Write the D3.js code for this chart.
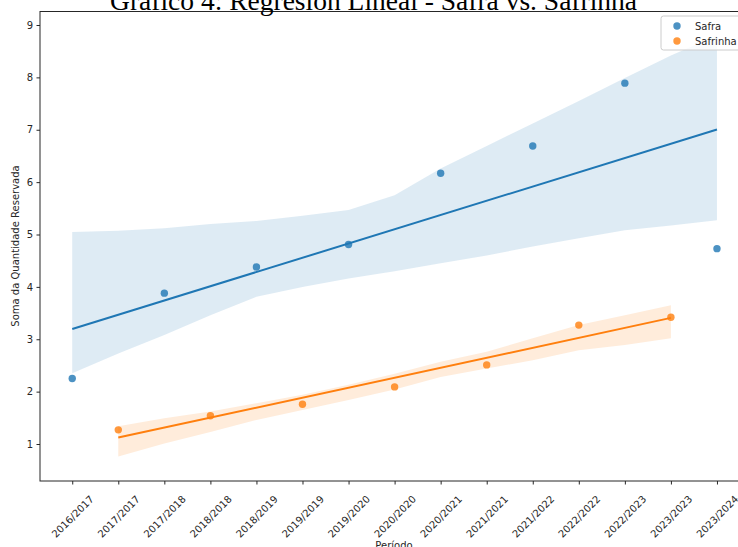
<!DOCTYPE html>
<html>
<head>
<meta charset="utf-8">
<script src="https://cdn.jsdelivr.net/npm/d3@7"></script>
<style>
  html, body { margin: 0; padding: 0; background: #fff; overflow: hidden; }
  svg { display: block; }
  text { font-family: "DejaVu Sans", sans-serif; fill: #262626; }
</style>
</head>
<body>
<svg id="chart" width="738" height="547"></svg>
<script>
// Harvest periods along the x axis
const periods = ["2016/2017", "2017/2017", "2017/2018", "2018/2018", "2018/2019",
  "2019/2019", "2019/2020", "2020/2020", "2020/2021", "2021/2021", "2021/2022",
  "2022/2022", "2022/2023", "2023/2023", "2023/2024"];

// Safra: observed totals (position = index in periods)
const safraPos = [0, 2, 4, 6, 8, 10, 12, 14];
const safraVals = [2.25, 3.88, 4.38, 4.81, 6.17, 6.69, 7.89, 4.73];

// Safrinha: observed totals
const safrinhaPos = [1, 3, 5, 7, 9, 11, 13];
const safrinhaVals = [1.27, 1.54, 1.76, 2.09, 2.51, 3.27, 3.42];

// 95% confidence bands (bootstrap) of the fitted lines
const safraBandPos = [0, 1, 2, 3, 4, 5, 6, 7, 8, 9, 10, 11, 12, 13, 14];
const safraUpper = [5.05, 5.07, 5.12, 5.20, 5.26, 5.36, 5.47, 5.75, 6.26, 6.69, 7.12, 7.55, 7.99, 8.42, 8.80];
const safraLower = [2.35, 2.73, 3.08, 3.46, 3.81, 4.00, 4.16, 4.30, 4.45, 4.60, 4.77, 4.93, 5.08, 5.17, 5.27];

const safrinhaBandPos = [1, 2, 3, 4, 5, 6, 7, 8, 9, 10, 11, 12, 13];
const safrinhaUpper = [1.34, 1.49, 1.62, 1.78, 1.94, 2.13, 2.34, 2.57, 2.76, 3.02, 3.27, 3.46, 3.65];
const safrinhaLower = [0.76, 1.01, 1.23, 1.46, 1.65, 1.84, 2.04, 2.28, 2.44, 2.60, 2.79, 2.89, 3.02];

const yTicks = [1, 2, 3, 4, 5, 6, 7, 8, 9];

const C_BLUE = "#1f77b4";
const C_ORANGE = "#ff7f0e";

const svg = d3.select("#chart");
const plotLeft = 40, plotRight = 749.2, plotTop = 11.5, plotBottom = 481;

const x = d3.scaleLinear().domain([-0.7, 14.7]).range([plotLeft, plotRight]);
const y = d3.scaleLinear().domain([0.2936, 9.258]).range([plotBottom, plotTop]);

// Ordinary least squares fit
function fit(xs, ys) {
  const mx = d3.mean(xs), my = d3.mean(ys);
  let sxy = 0, sxx = 0;
  xs.forEach((v, i) => { sxy += (v - mx) * (ys[i] - my); sxx += (v - mx) * (v - mx); });
  const b = sxy / sxx;
  return { a: my - b * mx, b };
}

function series(pos, vals, bandPos, upper, lower, color) {
  const g = svg.append("g");
  // scatter
  g.selectAll("circle").data(pos.map((p, i) => [p, vals[i]])).join("circle")
    .attr("cx", d => x(d[0])).attr("cy", d => y(d[1])).attr("r", 3.7)
    .attr("fill", color).attr("fill-opacity", 0.8);
  // band
  const band = bandPos.map((p, i) => [p, lower[i], upper[i]]);
  g.append("path").datum(band)
    .attr("d", d3.area().x(d => x(d[0])).y0(d => y(d[1])).y1(d => y(d[2])))
    .attr("fill", color).attr("fill-opacity", 0.15);
  // regression line
  const f = fit(pos, vals);
  const x0 = d3.min(pos), x1 = d3.max(pos);
  g.append("path").datum([[x0, f.a + f.b * x0], [x1, f.a + f.b * x1]])
    .attr("d", d3.line().x(d => x(d[0])).y(d => y(d[1])))
    .attr("stroke", color).attr("stroke-width", 2).attr("fill", "none");
}

series(safraPos, safraVals, safraBandPos, safraUpper, safraLower, C_BLUE);
series(safrinhaPos, safrinhaVals, safrinhaBandPos, safrinhaUpper, safrinhaLower, C_ORANGE);

// Axes
const yAxis = d3.axisLeft(y).tickValues(yTicks).tickFormat(d3.format("d")).tickSize(3.5).tickPadding(3.5);
const gy = svg.append("g").attr("transform", `translate(${plotLeft},0)`).call(yAxis);
gy.select(".domain").remove();
gy.selectAll("text").attr("font-size", 10).attr("font-family", "DejaVu Sans").attr("fill", "#262626");
gy.selectAll("line").attr("stroke", "#262626");

const xAxis = d3.axisBottom(x).tickValues(d3.range(periods.length)).tickFormat(i => periods[i]).tickSize(3.5);
const gx = svg.append("g").attr("transform", `translate(0,${plotBottom})`).call(xAxis);
gx.select(".domain").remove();
gx.selectAll("line").attr("stroke", "#262626");
gx.selectAll("text")
  .attr("font-size", 10).attr("font-family", "DejaVu Sans").attr("fill", "#262626")
  .attr("text-anchor", "middle").attr("dominant-baseline", "central")
  .attr("x", 0).attr("y", 35.5).attr("dy", null)
  .attr("transform", "rotate(-45 0 35.5)");

// Frame
svg.append("rect").attr("x", plotLeft).attr("y", plotTop)
  .attr("width", plotRight - plotLeft).attr("height", plotBottom - plotTop)
  .attr("fill", "none").attr("stroke", "#262626").attr("stroke-width", 1);

// Axis titles
svg.append("text").attr("x", 394).attr("y", 548.5).attr("text-anchor", "middle")
  .attr("font-size", 10).text("Período");
svg.append("text").attr("transform", "translate(18.5,246) rotate(-90)").attr("text-anchor", "middle")
  .attr("font-size", 10).text("Soma da Quantidade Reservada");

// Title
svg.append("text").attr("x", 637).attr("y", 9.5).attr("text-anchor", "end")
  .style("font-family", "'Liberation Serif', 'Times New Roman', serif").attr("font-size", 27.5).style("fill", "#000")
  .text("Gráfico 4: Regresión Lineal - Safra vs. Safrinha");

// Legend
const lg = svg.append("g");
lg.append("rect").attr("x", 661).attr("y", 16).attr("width", 100).attr("height", 34).attr("rx", 2.5)
  .attr("fill", "#fff").attr("fill-opacity", 0.8).attr("stroke", "#cccccc").attr("stroke-width", 1);
const legendItems = [["Safra", C_BLUE], ["Safrinha", C_ORANGE]];
legendItems.forEach((d, i) => {
  const cy = 26 + i * 15;
  lg.append("circle").attr("cx", 677).attr("cy", cy).attr("r", 3.7).attr("fill", d[1]).attr("fill-opacity", 0.8);
  lg.append("text").attr("x", 695).attr("y", cy).attr("dominant-baseline", "central")
    .attr("font-size", 10).text(d[0]);
});
</script>
</body>
</html>
